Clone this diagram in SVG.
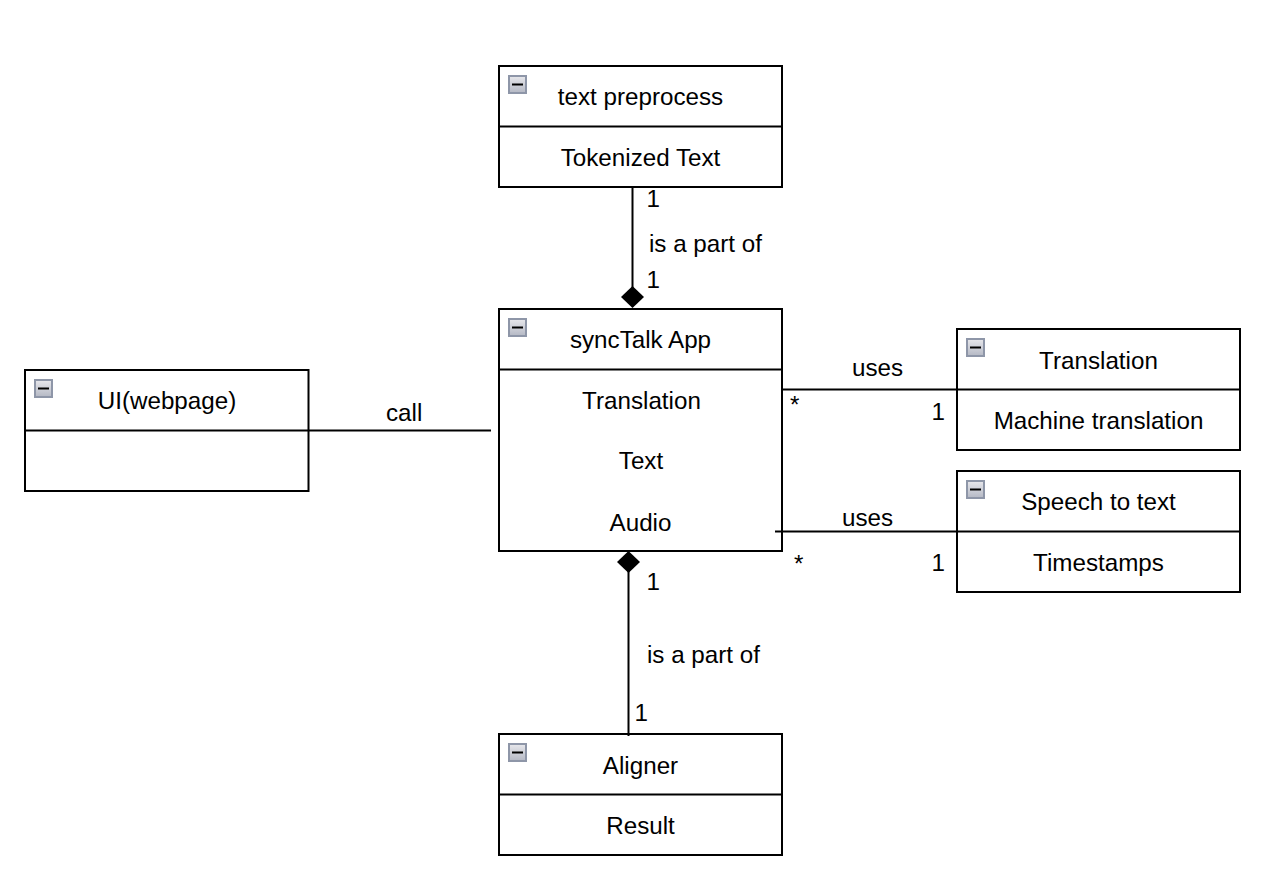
<svg xmlns="http://www.w3.org/2000/svg" width="1263" height="869" viewBox="0 0 1263 869">
<style>
text{font-family:"Liberation Sans",Arial,sans-serif;font-size:24.2px;fill:#000}
.m{text-anchor:middle}
.b{fill:#fff;stroke:#000;stroke-width:2}
.d{fill:none;stroke:#000;stroke-width:2}
.c{fill:none;stroke:#000;stroke-width:2}
.i{fill:url(#g);stroke:#8e96a8;stroke-width:2}
.ib{fill:none;stroke:#000;stroke-width:2}
</style>
<defs>
<linearGradient id="g" x1="0" y1="0" x2="0" y2="1"><stop offset="0" stop-color="#e8e8ec"/><stop offset="1" stop-color="#b4b8c4"/></linearGradient>
<g id="ic"><rect class="i" x="1" y="1" width="17" height="17"/><line class="ib" x1="4" y1="9.5" x2="15" y2="9.5"/></g>
</defs>
<rect width="1263" height="869" fill="#fff"/>
<g id="text-preprocess">
<rect class="b" x="499" y="66" width="283" height="121"/><line class="d" x1="499" y1="126.500" x2="782" y2="126.500"/>
<use href="#ic" x="508" y="75"/>
<text class="m" x="640.500" y="105">text preprocess</text>
<text class="m" x="640.500" y="166">Tokenized Text</text>
</g>
<g id="synctalk-app">
<rect class="b" x="499" y="309" width="283" height="242"/><line class="d" x1="499" y1="369.500" x2="782" y2="369.500"/>
<use href="#ic" x="508" y="318"/>
<text class="m" x="640.500" y="348">syncTalk App</text>
<text class="m" x="641.500" y="409">Translation</text>
<text class="m" x="641" y="469">Text</text>
<text class="m" x="640.500" y="531">Audio</text>
</g>
<g id="ui-webpage">
<rect class="b" x="25" y="370" width="283.500" height="121"/><line class="d" x1="25" y1="430.500" x2="308" y2="430.500"/>
<use href="#ic" x="34" y="379"/>
<text class="m" x="167" y="409">UI(webpage)</text>
</g>
<g id="translation">
<rect class="b" x="957" y="329" width="283" height="121"/><line class="d" x1="957" y1="389.500" x2="1240" y2="389.500"/>
<use href="#ic" x="966" y="338"/>
<text class="m" x="1098.500" y="369">Translation</text>
<text class="m" x="1098.500" y="429">Machine translation</text>
</g>
<g id="speech-to-text">
<rect class="b" x="957" y="471" width="283" height="121"/><line class="d" x1="957" y1="531.500" x2="1240" y2="531.500"/>
<use href="#ic" x="966" y="480"/>
<text class="m" x="1098.500" y="510">Speech to text</text>
<text class="m" x="1098.500" y="571">Timestamps</text>
</g>
<g id="aligner">
<rect class="b" x="499" y="734" width="283" height="121"/><line class="d" x1="499" y1="794.500" x2="782" y2="794.500"/>
<use href="#ic" x="508" y="743"/>
<text class="m" x="640.500" y="774">Aligner</text>
<text class="m" x="640.500" y="834">Result</text>
</g>
<g id="connectors">
<line class="c" x1="632.500" y1="187" x2="632.500" y2="288"/>
<polygon points="632.500,286 644,297 632.500,308 621,297"/>
<line class="c" x1="628.500" y1="570" x2="628.500" y2="736"/>
<polygon points="628.500,551 640,562 628.500,573 617,562"/>
<line class="c" x1="309" y1="430.500" x2="491" y2="430.500"/>
<line class="c" x1="782" y1="389.500" x2="957" y2="389.500"/>
<line class="c" x1="775" y1="531.500" x2="957" y2="531.500"/>
<text x="646.500" y="207">1</text>
<text x="649" y="252">is a part of</text>
<text x="646.500" y="288">1</text>
<text x="646.500" y="590">1</text>
<text x="647" y="663">is a part of</text>
<text x="634.500" y="721">1</text>
<text x="386" y="421">call</text>
<text x="852" y="376">uses</text>
<text x="790" y="413">*</text>
<text x="931.500" y="420">1</text>
<text x="842" y="526">uses</text>
<text x="794" y="572">*</text>
<text x="931.500" y="571">1</text>
</g>
</svg>
